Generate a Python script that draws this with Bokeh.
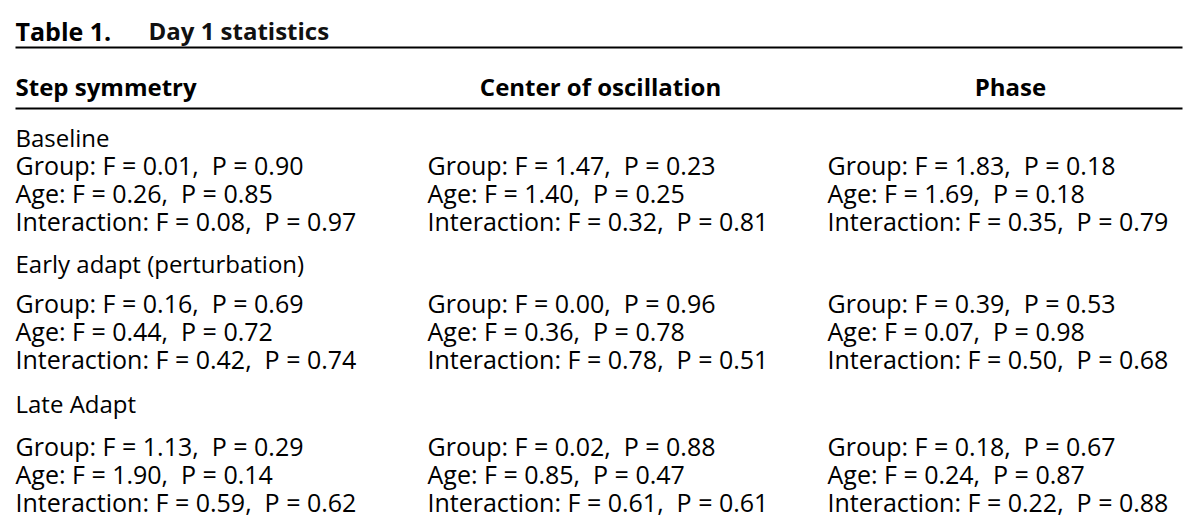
from bokeh.plotting import figure
from bokeh.models import Range1d, ColumnDataSource
from bokeh.core.properties import value
from bokeh.embed import file_html
from bokeh.resources import INLINE

# ---- data ----
title_num = "Table 1."
title_text = "Day 1 statistics"
columns = ["Step symmetry", "Center of oscillation", "Phase"]
sections = ["Baseline", "Early adapt (perturbation)", "Late Adapt"]
effects = ["Group", "Age", "Interaction"]

# values [section][effect] per column
step_F = [[0.01, 0.26, 0.08], [0.16, 0.44, 0.42], [1.13, 1.90, 0.59]]
step_P = [[0.90, 0.85, 0.97], [0.69, 0.72, 0.74], [0.29, 0.14, 0.62]]
center_F = [[1.47, 1.40, 0.32], [0.00, 0.36, 0.78], [0.02, 0.85, 0.61]]
center_P = [[0.23, 0.25, 0.81], [0.96, 0.78, 0.51], [0.88, 0.47, 0.61]]
phase_F = [[1.83, 1.69, 0.35], [0.39, 0.07, 0.50], [0.18, 0.24, 0.22]]
phase_P = [[0.18, 0.18, 0.79], [0.53, 0.98, 0.68], [0.67, 0.87, 0.88]]

# ---- layout ----
W, H = 1200, 526

p = figure(width=W, height=H, output_backend="svg", toolbar_location=None,
           x_range=Range1d(0, W), y_range=Range1d(H, 0), min_border=0,
           outline_line_color=None, background_fill_color="white",
           border_fill_color="white")
p.axis.visible = False
p.grid.visible = False

FONT = value("Open Sans")
HEAD = "24px"
LABEL = "24px"
BODY = "25px"

# title
p.text(x=[15], y=[30], text=[title_num], text_font=FONT, text_font_size="25px",
       text_font_style="bold", text_color="black", text_baseline="alphabetic")
p.text(x=[148], y=[30], text=[title_text], text_font=FONT, text_font_size="24px",
       text_font_style="bold", text_color="#111111", text_baseline="alphabetic")

# rules
for yy in (47, 108):
    p.line(x=[15, 1182], y=[yy, yy], line_color="black", line_width=2)

# column headers
col_x = [15, 427, 827]
head_x = [15, 600, 1010]
head_align = ["left", "center", "center"]
for cx, ca, name in zip(head_x, head_align, columns):
    p.text(x=[cx], y=[86], text=[name], text_font=FONT, text_font_size=HEAD,
           text_font_style="bold", text_color="black", text_baseline="alphabetic",
           text_align=ca)

# body
sec_label_y = [137, 263, 403]
sec_row0_y = [164, 302, 445]
ROW = 28
allF = [step_F, center_F, phase_F]
allP = [step_P, center_P, phase_P]

p.text(x=[15] * len(sections), y=sec_label_y, text=sections, text_font=FONT,
       text_font_size=LABEL, text_color="black", text_baseline="alphabetic")

xs, ys, texts = [], [], []
for si in range(len(sections)):
    for ci in range(3):
        for ei, eff in enumerate(effects):
            f = allF[ci][si][ei]
            pv = allP[ci][si][ei]
            xs.append(col_x[ci])
            ys.append(sec_row0_y[si] + ei * ROW)
            texts.append(f"{eff}: F = {f:.2f},\u00a0 P = {pv:.2f}")

src = ColumnDataSource(dict(x=xs, y=ys, t=texts))
p.text(x="x", y="y", text="t", source=src, text_font=FONT, text_font_size=BODY,
       text_color="black", text_baseline="alphabetic", text_align="left")

open("out.html", "w").write(file_html(p, INLINE))
